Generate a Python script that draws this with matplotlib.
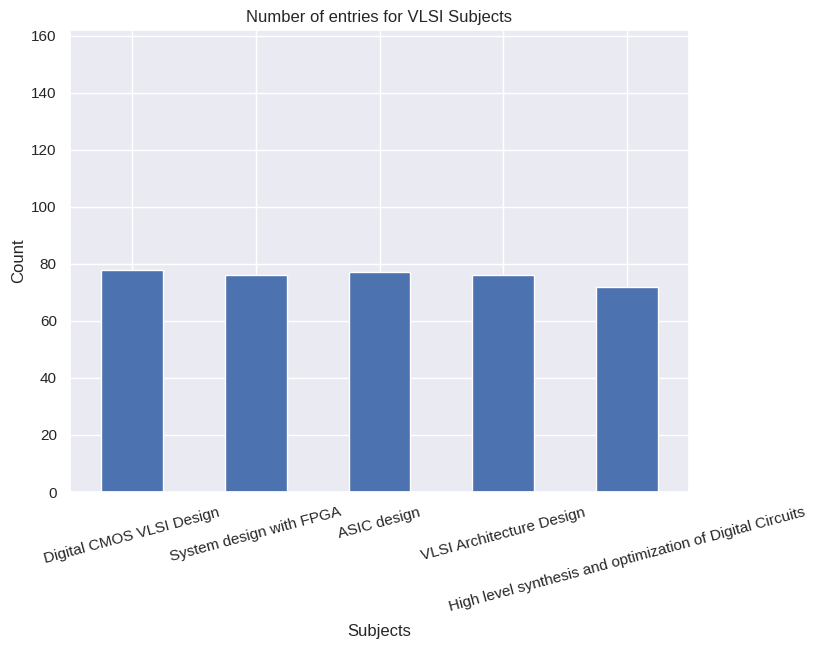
import matplotlib
matplotlib.use("Agg")
import matplotlib.pyplot as plt
import seaborn as sns
import pandas as pd

subjects = ["Digital CMOS VLSI Design",
            "System design with FPGA",
            "ASIC design",
            "VLSI Architecture Design",
            "High level synthesis and optimization of Digital Circuits"]
counts = [78, 76, 77, 76, 72]

sns.set_theme()
plt.rcParams['font.family'] = ['Liberation Sans', 'DejaVu Sans']

counts_series = pd.Series(counts, index=subjects)

fig = plt.figure(figsize=(8.19, 6.46), dpi=100)
ax = fig.add_axes([70 / 819, 1 - 492 / 646, 619 / 819, 462 / 646])
counts_series.plot(kind="bar", ax=ax, rot=15)
ax.set_ylim(0, 162)
ax.set_title("Number of entries for VLSI Subjects")
ax.set_xlabel("Subjects", labelpad=7)
ax.set_ylabel("Count")

fig.savefig("out.png", dpi=100)
